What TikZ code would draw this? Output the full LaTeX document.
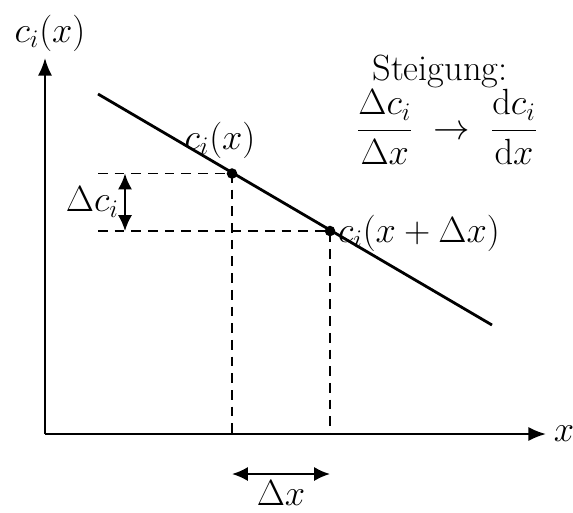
\documentclass[tikz,border=0pt]{standalone}
\usepackage{tikz}
\usetikzlibrary{positioning, arrows.meta, calc}
\usepackage{amsmath}

\begin{document}
\begin{tikzpicture}[x=0.02cm, y=-0.02cm,
    every node/.style={font=\huge},
    axis/.style={line width=1.2pt, -{Latex[length=10pt,width=8pt]}},
    guide/.style={dashed, line width=0.9pt, dash pattern=on 5.5pt off 4pt},
    span/.style={line width=1.2pt, {Latex[length=9pt,width=8pt]}-{Latex[length=9pt,width=8pt]}},
    dot/.style={circle, fill=black, inner sep=0pt, minimum size=6pt}]
    \useasboundingbox (0,0) rectangle (573,512);
    % axes
    \coordinate (o) at (45,434);
    \coordinate (ytop) at (45,58);
    \coordinate (xend) at (546,434);
    \draw[axis] (o) -- (ytop);
    \draw[axis] (o) -- (xend);
    \node[inner sep=0pt] (xlab) at (564,434) {$x$};
    \node (ylab) at (50,33) {$c_i(x)$};
    % the curve
    \coordinate (lstart) at (98,94);
    \coordinate (lend) at (492,325);
    \draw[line width=1.6pt] (lstart) -- (lend);
    \node[dot] (pA) at (232,173.5) {};
    \node[dot] (pB) at (330,231) {};
    \node (pAlab) at (220,140) {$c_i(x)$};
    \node[anchor=west, inner sep=1pt] (pBlab) at (336,233) {$c_i(x+\Delta x)$};
    % guides
    \coordinate (gA) at (98,173.5);
    \coordinate (gB) at (98,231);
    \coordinate (fA) at (232,434);
    \coordinate (fB) at (330,434);
    \draw[guide] (gA) -- (pA.center) -- (fA);
    \draw[guide] (gB) -- (pB.center) -- (fB);
    % differences
    \coordinate (dA) at (125,173.5);
    \coordinate (dB) at (125,231);
    \draw[span] (dA) -- (dB);
    \node[left=0pt of $(dA)!0.5!(dB)$] (dclab) {$\Delta c_i$};
    \coordinate (hA) at (232,474);
    \coordinate (hB) at (330,474);
    \draw[span] (hA) -- (hB);
    \node[below=0pt of $(hA)!0.5!(hB)$] (dxlab) {$\Delta x$};
    % slope note
    \node[inner sep=1pt] (note) at (440,71) {Steigung:};
    \node[inner sep=0pt] (frac) at (447,127)
      {$\dfrac{\Delta c_i}{\Delta x} \;\to\; \dfrac{\mathrm{d}c_i}{\mathrm{d}x}$};
\end{tikzpicture}
\end{document}
